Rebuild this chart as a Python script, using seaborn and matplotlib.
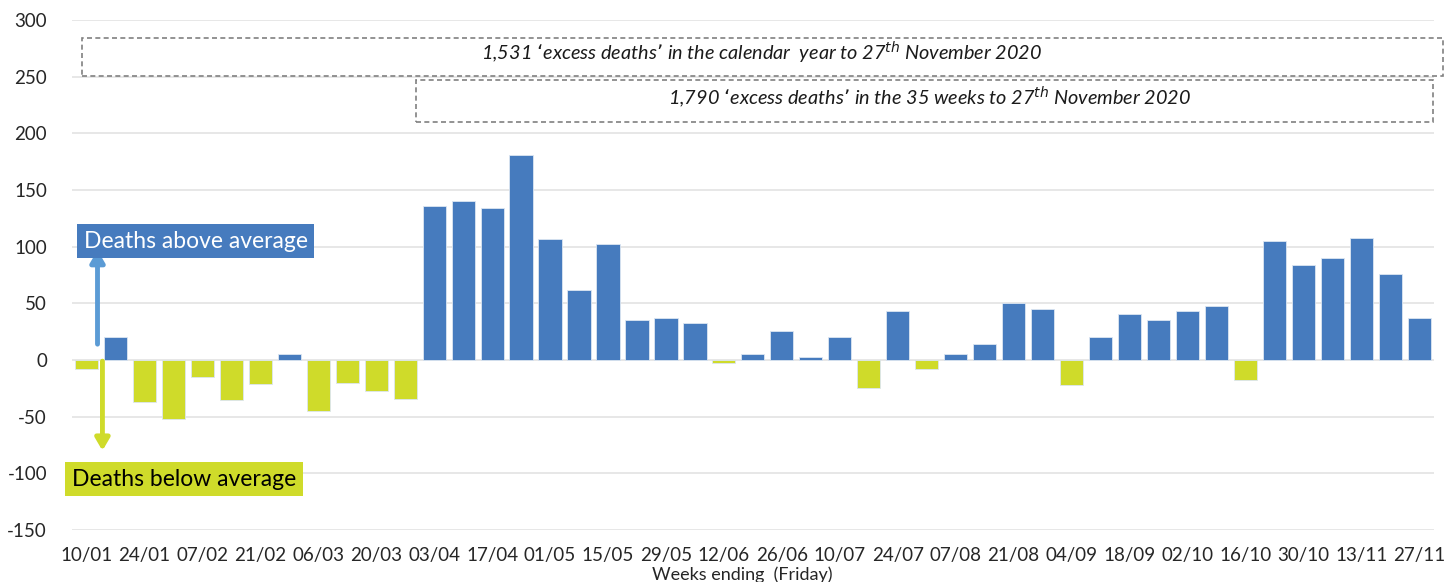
import matplotlib
matplotlib.use("Agg")
import matplotlib.pyplot as plt
import seaborn as sns
import pandas as pd
from matplotlib.patches import Rectangle

weeks = ["10/01", "17/01", "24/01", "31/01", "07/02", "14/02", "21/02", "28/02",
         "06/03", "13/03", "20/03", "27/03", "03/04", "10/04", "17/04", "24/04",
         "01/05", "08/05", "15/05", "22/05", "29/05", "05/06", "12/06", "19/06",
         "26/06", "03/07", "10/07", "17/07", "24/07", "31/07", "07/08", "14/08",
         "21/08", "28/08", "04/09", "11/09", "18/09", "25/09", "02/10", "09/10",
         "16/10", "23/10", "30/10", "06/11", "13/11", "20/11", "27/11"]
excess = [-8, 20, -37, -52, -15, -35, -21, 5,
          -45, -20, -27, -34, 136, 140, 134, 181,
          107, 62, 102, 35, 37, 33, -3, 5,
          26, 3, 20, -25, 43, -8, 5, 14,
          50, 45, -22, 20, 41, 35, 43, 48,
          -18, 105, 84, 90, 108, 76, 37]
yticks = [-150, -100, -50, 0, 50, 100, 150, 200, 250, 300]
note_year = "1,531 \u2018excess deaths\u2019 in the calendar  year to 27$^{th}$ November 2020"
note_35 = "1,790 \u2018excess deaths\u2019 in the 35 weeks to 27$^{th}$ November 2020"
label_above = "Deaths above average"
label_below = "Deaths below average"
xlabel = "Weeks ending  (Friday)"

BLUE = "#467BBE"
YELLOW = "#CFDB2A"
ARROW_BLUE = "#5B9BD5"

sns.set_theme(style="white")
plt.rcParams["font.family"] = ["Lato", "DejaVu Sans"]

df = pd.DataFrame({"week": weeks, "value": excess})
df["sign"] = ["above" if v >= 0 else "below" for v in excess]

fig = plt.figure(figsize=(14.46, 5.82), dpi=100)
ax = fig.add_axes([0.0498, 0.0893, 0.9417, 0.8763])

sns.barplot(data=df, x="week", y="value", hue="sign", order=weeks,
            palette={"above": BLUE, "below": YELLOW}, dodge=False, saturation=1,
            width=0.8, legend=False, ax=ax, edgecolor="#DCE6F2", linewidth=0.6)

ax.set_ylim(-150, 300)
ax.set_xlim(-0.5, len(weeks) - 0.5)
ax.set_yticks(yticks)
ax.set_yticklabels([str(t) for t in yticks], fontsize=13.5)
ax.set_xticks(range(0, len(weeks), 2))
ax.set_xticklabels(weeks[::2], fontsize=13.5)
ax.tick_params(axis="x", length=0, pad=12)
ax.tick_params(axis="y", length=0, pad=18)
ax.yaxis.grid(True, color="#E3E3E3", linewidth=1.2)
ax.set_axisbelow(True)
for s in ax.spines.values():
    s.set_visible(False)
ax.set_ylabel("")
ax.set_xlabel("")
fig.text(0.513, 0.013, xlabel, ha="center", va="center", fontsize=13)

# dashed annotation boxes
ax.add_patch(Rectangle((-0.17, 251), 47.0, 33, fill=False, ls=(0, (3, 2)),
                       ec="#808080", lw=1.2, clip_on=False, zorder=5))
ax.text(23.3, 271, note_year, ha="center", va="center", fontsize=14.3,
        style="italic", color="#1a1a1a", zorder=6)
ax.add_patch(Rectangle((11.38, 210), 35.1, 37, fill=False, ls=(0, (3, 2)),
                       ec="#808080", lw=1.2, clip_on=False, zorder=5))
ax.text(29.1, 232, note_35, ha="center", va="center", fontsize=14.3,
        style="italic", color="#1a1a1a", zorder=6)

# arrows
ax.annotate("", xy=(0.38, 97), xytext=(0.38, 14),
            arrowprops=dict(arrowstyle="-|>,head_width=0.35,head_length=0.6",
                            color=ARROW_BLUE, lw=3.5, shrinkA=0, shrinkB=0), zorder=4)
ax.annotate("", xy=(0.55, -80), xytext=(0.55, -1),
            arrowprops=dict(arrowstyle="-|>,head_width=0.35,head_length=0.6",
                            color=YELLOW, lw=3.5, shrinkA=0, shrinkB=0), zorder=4)

# labels
ax.text(-0.1, 105, label_above, ha="left", va="center", fontsize=16.5,
        color="white", zorder=7,
        bbox=dict(boxstyle="square,pad=0.3", fc=BLUE, ec="none"))
ax.text(-0.5, -105, label_below, ha="left", va="center", fontsize=16.5,
        color="black", zorder=7,
        bbox=dict(boxstyle="square,pad=0.3", fc=YELLOW, ec="none"))

fig.savefig("out.png", dpi=100)
